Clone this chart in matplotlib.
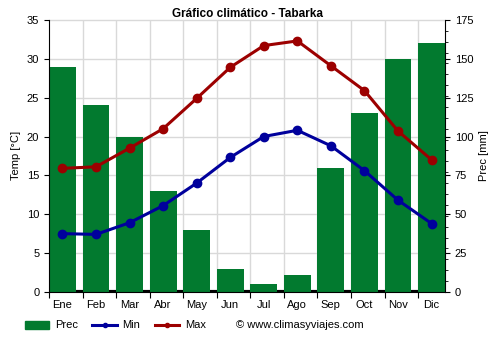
import matplotlib
matplotlib.use('Agg')
import matplotlib.pyplot as plt
from matplotlib.ticker import FixedLocator, MultipleLocator
from matplotlib.lines import Line2D
from matplotlib.patches import Patch
import numpy as np

plt.rcParams['font.family'] = ['Liberation Sans', 'DejaVu Sans']
plt.rcParams['font.size'] = 8

# Datos climáticos mensuales
meses = ['Ene', 'Feb', 'Mar', 'Abr', 'May', 'Jun', 'Jul', 'Ago', 'Sep', 'Oct', 'Nov', 'Dic']
prec = [145, 120, 100, 65, 40, 15, 5, 11, 80, 115, 150, 160]
t_min = [7.5, 7.4, 8.9, 11.1, 14.0, 17.3, 20.0, 20.8, 18.8, 15.6, 11.8, 8.8]
t_max = [15.9, 16.1, 18.5, 21.0, 24.9, 28.9, 31.7, 32.3, 29.1, 25.9, 20.7, 17.0]

verde = '#027a2f'
azul = '#00009c'
rojo = '#9c0000'

fig = plt.figure(figsize=(5, 3.5), dpi=100)
ax = fig.add_axes([0.098, 0.166, 0.792, 0.777])
ax2 = ax.twinx()

x = np.arange(len(meses))

# Barras de precipitación en el eje derecho
ax2.axhline(0, color='black', linewidth=3, zorder=1)
ax2.bar(x, prec, width=0.8, color=verde, zorder=2)
ax2.set_ylim(0, 175)
ax2.yaxis.set_major_locator(MultipleLocator(25))
ax2.yaxis.set_minor_locator(MultipleLocator(7))
ax2.set_ylabel('Prec [mm]', fontsize=8)

# Temperaturas en el eje izquierdo, dibujadas por encima de las barras
ax.set_zorder(ax2.get_zorder() + 1)
ax.patch.set_visible(False)
ax.plot(x, t_min, color=azul, linewidth=2.2, marker='o', markersize=6)
ax.plot(x, t_max, color=rojo, linewidth=2.2, marker='o', markersize=6)
ax.set_ylim(0, 35)
ax.yaxis.set_major_locator(MultipleLocator(5))
ax.set_ylabel('Temp [°C]', fontsize=8)

ax.set_xlim(-0.4, 11.4)
ax.xaxis.set_major_locator(FixedLocator(x - 0.4))
ax.xaxis.set_minor_locator(FixedLocator(x))
ax.set_xticklabels([])
ax.set_xticklabels(meses, minor=True)
ax.tick_params(axis='x', which='minor', length=0, pad=6)
ax.tick_params(axis='x', which='major', length=4)

# Rejilla detrás de las barras
ax2.grid(False)
for yv in range(5, 40, 5):
    ax2.axhline(yv * 5, color='#d9d9d9', linewidth=1, zorder=0, clip_on=False)
for xv in x[1:] - 0.4:
    ax2.axvline(xv, color='#d9d9d9', linewidth=1, zorder=0)

for a in (ax, ax2):
    a.spines['top'].set_visible(False)
ax.spines['right'].set_visible(False)
ax2.spines['left'].set_visible(False)
ax2.spines['bottom'].set_visible(False)

ax.set_title('Gráfico climático - Tabarka', fontsize=8.5, fontweight='bold', pad=2)

handles = [
    Patch(color=verde, label='Prec'),
    Line2D([0], [0], color=azul, linewidth=2.2, marker='o', markersize=3, label='Min'),
    Line2D([0], [0], color=rojo, linewidth=2.2, marker='o', markersize=3, label='Max'),
]
fig.legend(handles=handles, loc='center left', bbox_to_anchor=(0.03, 0.07), ncol=3,
           frameon=False, fontsize=8, handlelength=2.2, handletextpad=0.5,
           columnspacing=1.3)
fig.text(0.472, 0.07, '© www.climasyviajes.com', fontsize=8, va='center')

fig.savefig('out.png', dpi=100)
